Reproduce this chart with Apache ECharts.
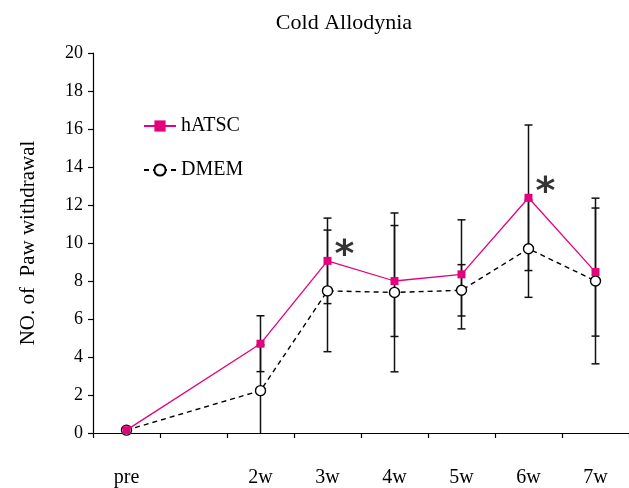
<!DOCTYPE html>
<html>
<head>
<meta charset="utf-8">
<script src="https://cdn.jsdelivr.net/npm/echarts@6/dist/echarts.min.js"></script>
<style>html,body{margin:0;padding:0;background:#fff}#c{width:629px;height:488px}</style>
</head>
<body>
<div id="c"></div>
<script>
var categories = ['pre', '', '2w', '3w', '4w', '5w', '6w', '7w'];
var hATSC = [0.15, null, 4.70, 9.06, 8.00, 8.35, 12.38, 8.47];
var hATSC_sd = [0, null, 1.47, 2.25, 2.92, 2.87, 3.83, 3.37];
var DMEM = [0.15, null, 2.23, 7.48, 7.40, 7.51, 9.70, 8.00];
var DMEM_sd = [0, null, 2.40, 3.20, 4.18, 1.35, 2.56, 4.36];
var yTicks = [0, 2, 4, 6, 8, 10, 12, 14, 16, 18, 20];
var starCats = ['3w', '6w'];
var starVals = [9.06, 12.38];

var FONT = 'Liberation Serif';

function errData(means, sds) {
  var out = [];
  for (var i = 0; i < means.length; i++) {
    if (means[i] == null || !sds[i]) continue;
    out.push([i, means[i] - sds[i], means[i] + sds[i]]);
  }
  return out;
}
var errAll = errData(hATSC, hATSC_sd).concat(errData(DMEM, DMEM_sd));

var chart = echarts.init(document.getElementById('c'), null, {renderer: 'canvas'});
chart.setOption({
  animation: false,
  backgroundColor: '#fff',
  title: {
    text: 'Cold Allodynia',
    left: 339, top: 7, textAlign: 'center',
    textStyle: {fontFamily: FONT, fontSize: 22, fontWeight: 'normal', color: '#000'}
  },
  legend: {
    orient: 'vertical', left: 138, top: 111,
    itemWidth: 32, itemHeight: 14, itemGap: 24,
    data: ['hATSC', 'DMEM'],
    textStyle: {fontFamily: FONT, fontSize: 20, color: '#000'}
  },
  grid: {left: 93, right: -3, top: 53, bottom: 53},
  xAxis: {
    type: 'category', data: categories, boundaryGap: true,
    axisLine: {lineStyle: {color: '#000', width: 1.2}},
    axisTick: {show: true, inside: false, length: 5, alignWithLabel: false, lineStyle: {color: '#000', width: 1.2}},
    axisLabel: {margin: 35, fontFamily: FONT, fontSize: 20, color: '#000', interval: 0},
    splitLine: {show: false}
  },
  yAxis: {
    type: 'value', min: 0, max: 20, interval: 2,
    name: 'NO. of  Paw withdrawal', nameLocation: 'middle', nameGap: 54,
    nameTextStyle: {fontFamily: FONT, fontSize: 21, color: '#000'},
    axisLine: {show: true, lineStyle: {color: '#000', width: 1.2}},
    axisTick: {show: true, inside: false, length: 5, lineStyle: {color: '#000', width: 1.2}},
    axisLabel: {margin: 10, fontFamily: FONT, fontSize: 18, color: '#000',
      formatter: function (v) { return yTicks.indexOf(v) >= 0 ? String(v) : ''; }},
    splitLine: {show: false}
  },
  series: [
    {
      type: 'custom', name: 'err', z: 1, clip: true,
      data: errAll,
      encode: {x: 0, y: [1, 2]},
      renderItem: function (params, api) {
        var lo = api.coord([api.value(0), api.value(1)]);
        var hi = api.coord([api.value(0), api.value(2)]);
        var w = 4;
        var st = {stroke: '#111', lineWidth: 1.5};
        return {
          type: 'group',
          children: [
            {type: 'line', shape: {x1: lo[0], y1: lo[1], x2: hi[0], y2: hi[1]}, style: st},
            {type: 'line', shape: {x1: lo[0] - w, y1: lo[1], x2: lo[0] + w, y2: lo[1]}, style: st},
            {type: 'line', shape: {x1: hi[0] - w, y1: hi[1], x2: hi[0] + w, y2: hi[1]}, style: st}
          ]
        };
      }
    },
    {
      type: 'line', name: 'DMEM', z: 3, data: DMEM, connectNulls: true,
      symbol: 'circle', symbolSize: 10, showAllSymbol: true,
      lineStyle: {color: '#000', width: 1.4, type: [5, 4]},
      itemStyle: {color: '#fff', borderColor: '#000', borderWidth: 1.4}
    },
    {
      type: 'line', name: 'hATSC', z: 4, data: hATSC, connectNulls: true,
      symbol: 'rect', symbolSize: 8, showAllSymbol: true,
      lineStyle: {color: '#E5007E', width: 1.3},
      itemStyle: {color: '#E5007E', borderWidth: 0}
    },
    {
      type: 'scatter', name: 'stars', z: 5, symbolSize: 1, silent: true,
      itemStyle: {color: 'rgba(0,0,0,0)'},
      data: starCats.map(function (c, i) { return [c, starVals[i]]; }),
      label: {show: true, formatter: '*', position: 'inside', offset: [17, -5],
        fontFamily: 'DejaVu Sans', fontWeight: 'bold', fontSize: 38, color: '#000'}
    }
  ]
});
</script>
</body>
</html>
